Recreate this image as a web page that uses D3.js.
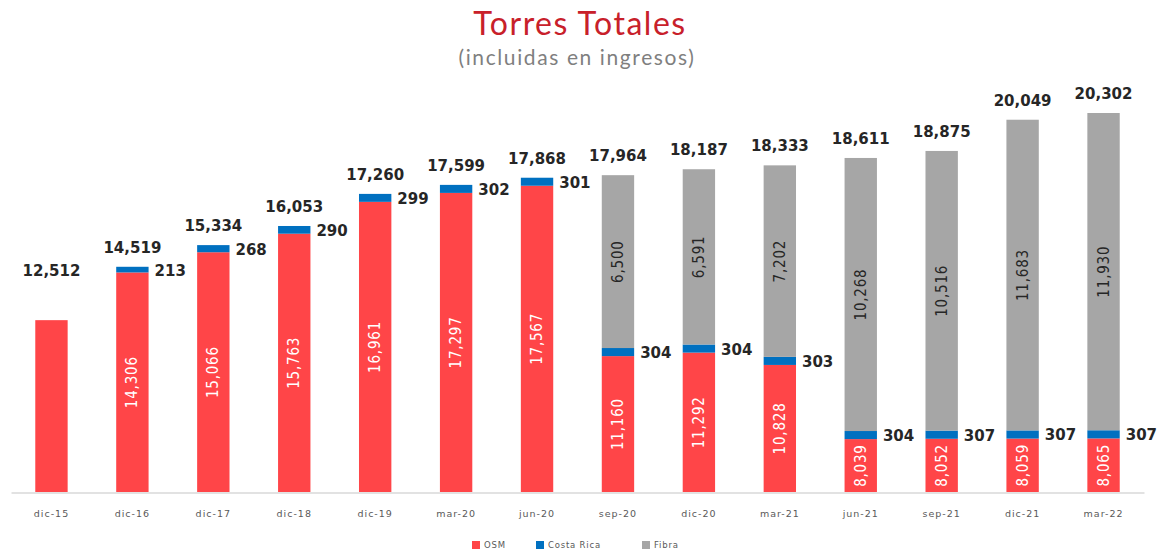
<!DOCTYPE html>
<html>
<head>
<meta charset="utf-8">
<script src="https://cdn.jsdelivr.net/npm/d3@7/dist/d3.min.js"></script>
<style>
  body { margin: 0; background: #fff; }
  svg { display: block; }
</style>
</head>
<body>
<div id="chart"></div>
<script>
// chart data
const categories = ["dic-15", "dic-16", "dic-17", "dic-18", "dic-19", "mar-20", "jun-20",
  "sep-20", "dic-20", "mar-21", "jun-21", "sep-21", "dic-21", "mar-22"];
const osm = [12512, 14306, 15066, 15763, 16961, 17297, 17567, 11160, 11292, 10828, 8039, 8052, 8059, 8065];
const costaRica = [0, 213, 268, 290, 299, 302, 301, 304, 304, 303, 304, 307, 307, 307];
const fibra = [0, 0, 0, 0, 0, 0, 0, 6500, 6591, 7202, 10268, 10516, 11683, 11930];
const totals = [12512, 14519, 15334, 16053, 17260, 17599, 17868, 17964, 18187, 18333, 18611, 18875, 20049, 20302];
const seriesNames = ["OSM", "Costa Rica", "Fibra"];

const width = 1158, height = 553;
const colors = { "OSM": "#FF4548", "Costa Rica": "#0070C0", "Fibra": "#A6A6A6" };
const fmt = d3.format(",");

const rows = categories.map((c, i) => ({
  cat: c, "OSM": osm[i], "Costa Rica": costaRica[i], "Fibra": fibra[i], total: totals[i]
}));

const svg = d3.select("#chart").append("svg")
  .attr("width", width)
  .attr("height", height);

// title
svg.append("text")
  .attr("x", 580).attr("y", 35)
  .attr("text-anchor", "middle")
  .attr("font-family", "Lato, 'Open Sans', sans-serif")
  .attr("font-size", 32)
  .attr("letter-spacing", 1.5)
  .attr("fill", "#C8202A")
  .text("Torres Totales");

svg.append("text")
  .attr("x", 577).attr("y", 65)
  .attr("text-anchor", "middle")
  .attr("font-family", "Lato, 'Open Sans', sans-serif")
  .attr("font-size", 21)
  .attr("letter-spacing", 1.6)
  .attr("fill", "#7F7F7F")
  .text("(incluidas en ingresos)");

// scales (value axis does not start at zero in the original)
const x = d3.scaleBand()
  .domain(categories)
  .range([11, 1144])
  .paddingInner(0.6)
  .paddingOuter(0.3);

const y = d3.scaleLinear()
  .domain([6050, 20302])
  .range([492, 113])
  .clamp(true);

const stack = d3.stack().keys(seriesNames);
const series = stack(rows);

// bars
const g = svg.append("g");
series.forEach(s => {
  g.append("g")
    .attr("fill", colors[s.key])
    .selectAll("rect")
    .data(s.filter(d => d[1] - d[0] > 0))
    .join("rect")
      .attr("x", d => x(d.data.cat))
      .attr("width", x.bandwidth())
      .attr("y", d => y(d[1]))
      .attr("height", d => y(d[0]) - y(d[1]));
});

// axis line + category labels
const axis = svg.append("g")
  .attr("transform", "translate(0,492.5)")
  .call(d3.axisBottom(x).tickSize(0).tickPadding(18));
axis.select(".domain").attr("stroke", "#D9D9D9").attr("stroke-width", 1.5);
axis.selectAll("text")
  .attr("font-family", "'DejaVu Sans', Verdana, sans-serif")
  .attr("font-size", 9.5)
  .attr("letter-spacing", 1)
  .attr("fill", "#595959");

const cx = d => x(d.data.cat) + x.bandwidth() / 2;

// OSM labels (rotated, white) - none for dic-15
const osmSeries = series[0];
g.append("g")
  .selectAll("text")
  .data(osmSeries.filter(d => d.data.cat !== categories[0]))
  .join("text")
    .attr("transform", d => `translate(${cx(d)},${(y(d[0]) + y(d[1])) / 2}) rotate(-90)`)
    .attr("text-anchor", "middle")
    .attr("dominant-baseline", "central")
    .attr("font-family", "'DejaVu Sans Condensed', 'DejaVu Sans', sans-serif")
    .attr("font-size", 15)
    .attr("letter-spacing", 0.8)
    .attr("fill", "#fff")
    .text(d => fmt(d.data["OSM"]));

// Fibra labels (rotated, dark)
const fibraSeries = series[2];
g.append("g")
  .selectAll("text")
  .data(fibraSeries.filter(d => d[1] - d[0] > 0))
  .join("text")
    .attr("transform", d => `translate(${cx(d)},${(y(d[0]) + y(d[1])) / 2}) rotate(-90)`)
    .attr("text-anchor", "middle")
    .attr("dominant-baseline", "central")
    .attr("font-family", "'DejaVu Sans Condensed', 'DejaVu Sans', sans-serif")
    .attr("font-size", 15)
    .attr("letter-spacing", 0.8)
    .attr("fill", "#262626")
    .text(d => fmt(d.data["Fibra"]));

// Costa Rica labels (right of blue segment)
const crSeries = series[1];
g.append("g")
  .selectAll("text")
  .data(crSeries.filter(d => d[1] - d[0] > 0))
  .join("text")
    .attr("x", d => x(d.data.cat) + x.bandwidth() + 6)
    .attr("y", d => (y(d[0]) + y(d[1])) / 2 + 1)
    .attr("dominant-baseline", "central")
    .attr("font-family", "'DejaVu Sans', sans-serif")
    .attr("font-weight", "bold")
    .attr("font-size", 15)
    .attr("fill", "#262626")
    .text(d => d.data["Costa Rica"]);

// total labels above bars
g.append("g")
  .selectAll("text")
  .data(rows)
  .join("text")
    .attr("x", d => x(d.cat) + x.bandwidth() / 2)
    .attr("y", (d, i) => i === 0 ? y(d.total) - 44 : y(d.total) - 14)
    .attr("text-anchor", "middle")
    .attr("font-family", "'DejaVu Sans', sans-serif")
    .attr("font-weight", "bold")
    .attr("font-size", 15)
    .attr("fill", "#262626")
    .text(d => fmt(d.total));

// legend
const legend = svg.append("g")
  .attr("transform", "translate(472,545)");
const legendX = [0, 64, 170];
seriesNames.forEach((name, i) => {
  const item = legend.append("g").attr("transform", `translate(${legendX[i]},0)`);
  item.append("rect")
    .attr("x", 0).attr("y", -4)
    .attr("width", 8).attr("height", 8)
    .attr("fill", colors[name]);
  item.append("text")
    .attr("x", 12).attr("y", 0)
    .attr("dominant-baseline", "central")
    .attr("font-family", "'DejaVu Sans', Verdana, sans-serif")
    .attr("font-size", 8.5)
    .attr("letter-spacing", 0.8)
    .attr("fill", "#595959")
    .text(name);
});
</script>
</body>
</html>
